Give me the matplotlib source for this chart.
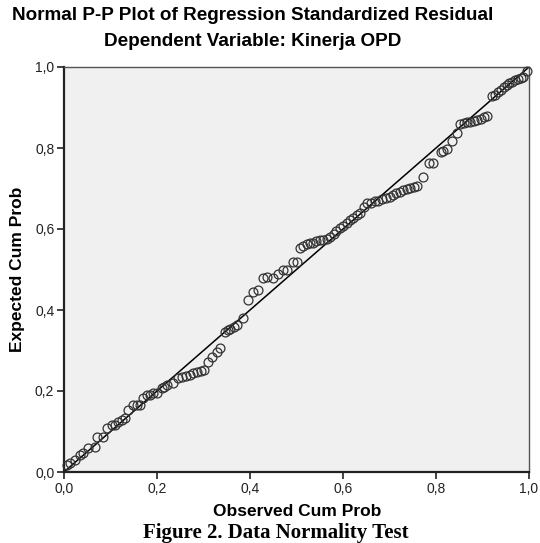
import matplotlib.pyplot as plt

# observed vs expected cumulative probability
observed = [0.006, 0.013, 0.024, 0.034, 0.041, 0.052, 0.066, 0.070, 0.084, 0.092,
            0.103, 0.110, 0.117, 0.125, 0.131, 0.138, 0.149, 0.156, 0.163, 0.170,
            0.178, 0.185, 0.192, 0.200, 0.210, 0.216, 0.222, 0.235, 0.245, 0.253,
            0.262, 0.270, 0.278, 0.286, 0.294, 0.300, 0.310, 0.318, 0.328, 0.335,
            0.346, 0.352, 0.357, 0.365, 0.372, 0.385, 0.396, 0.406, 0.417, 0.428,
            0.436, 0.450, 0.460, 0.470, 0.480, 0.493, 0.500, 0.507, 0.515, 0.522,
            0.529, 0.536, 0.543, 0.550, 0.558, 0.565, 0.572, 0.580, 0.586, 0.593,
            0.600, 0.608, 0.615, 0.622, 0.630, 0.637, 0.645, 0.651, 0.660, 0.668,
            0.676, 0.684, 0.692, 0.700, 0.707, 0.715, 0.722, 0.730, 0.737, 0.745,
            0.752, 0.760, 0.772, 0.785, 0.793, 0.810, 0.816, 0.823, 0.835, 0.845,
            0.852, 0.860, 0.866, 0.874, 0.881, 0.888, 0.896, 0.903, 0.910, 0.920,
            0.927, 0.933, 0.940, 0.946, 0.952, 0.958, 0.964, 0.970, 0.976, 0.982,
            0.987, 0.995]
expected = [0.017, 0.022, 0.030, 0.042, 0.047, 0.059, 0.062, 0.086, 0.086, 0.109,
            0.116, 0.115, 0.123, 0.128, 0.133, 0.153, 0.165, 0.166, 0.165, 0.182,
            0.190, 0.191, 0.195, 0.196, 0.207, 0.211, 0.215, 0.220, 0.232, 0.235,
            0.236, 0.240, 0.244, 0.247, 0.250, 0.252, 0.272, 0.285, 0.297, 0.306,
            0.346, 0.350, 0.352, 0.358, 0.363, 0.380, 0.425, 0.444, 0.449, 0.479,
            0.481, 0.480, 0.490, 0.498, 0.498, 0.518, 0.518, 0.553, 0.557, 0.562,
            0.565, 0.566, 0.570, 0.573, 0.574, 0.576, 0.580, 0.588, 0.594, 0.602,
            0.608, 0.615, 0.622, 0.628, 0.634, 0.640, 0.655, 0.664, 0.665, 0.668,
            0.670, 0.674, 0.677, 0.680, 0.684, 0.688, 0.692, 0.696, 0.699, 0.702,
            0.704, 0.706, 0.728, 0.763, 0.763, 0.790, 0.792, 0.797, 0.817, 0.837,
            0.860, 0.862, 0.863, 0.865, 0.866, 0.868, 0.872, 0.876, 0.880, 0.928,
            0.932, 0.938, 0.944, 0.950, 0.955, 0.960, 0.964, 0.968, 0.970, 0.973,
            0.975, 0.990]

ticks = [0.0, 0.2, 0.4, 0.6, 0.8, 1.0]
tick_labels = ["0,0", "0,2", "0,4", "0,6", "0,8", "1,0"]

plt.rcParams['font.family'] = ['Liberation Sans', 'DejaVu Sans']

fig = plt.figure(figsize=(5.4, 5.43), dpi=100)
ax = fig.add_axes([64 / 540, 71 / 543, 465 / 540, 405 / 543])
ax.set_facecolor('#f0f0f0')

ax.plot([0, 1], [0, 1], color='black', linewidth=1.1, zorder=2)
ax.plot(observed, expected, linestyle='none', marker='o', markersize=6.4,
        markerfacecolor='none', markeredgecolor='#333333', markeredgewidth=0.9,
        zorder=3, clip_on=False)

ax.set_xlim(0, 1)
ax.set_ylim(0, 1)
ax.set_xticks(ticks)
ax.set_xticklabels(tick_labels)
ax.set_yticks(ticks)
ax.set_yticklabels(tick_labels)
ax.tick_params(direction='out', length=5, width=1.2, labelsize=10,
               colors='#222222', pad=2)

for side in ['left', 'bottom']:
    ax.spines[side].set_linewidth(1.6)
    ax.spines[side].set_color('#222222')
for side in ['top', 'right']:
    ax.spines[side].set_linewidth(1.0)
    ax.spines[side].set_color('#555555')

ax.set_ylabel("Expected Cum Prob", fontsize=12.5, fontweight='bold', labelpad=7)
# x label placed by hand so it sits between tick labels and the caption
fig.text(297 / 540, 1 - 512 / 543, "Observed Cum Prob",
         ha='center', va='center', fontsize=12.5, fontweight='bold')

fig.text(253 / 540, 1 - 15 / 543, "Normal P-P Plot of Regression Standardized Residual",
         ha='center', va='center', fontsize=13.6, fontweight='bold')
fig.text(253 / 540, 1 - 42 / 543, "Dependent Variable: Kinerja OPD",
         ha='center', va='center', fontsize=13.6, fontweight='bold')
fig.text(276 / 540, 1 - 533 / 543, "Figure 2. Data Normality Test",
         ha='center', va='center', fontsize=15, fontweight='bold',
         family=['Liberation Serif', 'DejaVu Serif'])

fig.savefig('out.png', dpi=100, facecolor='white')
